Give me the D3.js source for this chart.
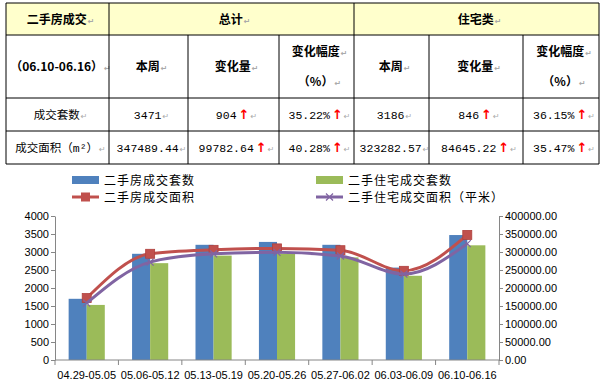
<!DOCTYPE html>
<html><head><meta charset="utf-8">
<script src="https://cdn.jsdelivr.net/npm/d3@7/dist/d3.min.js"></script>
<style>body{margin:0;background:#fff}svg{display:block}</style>
</head><body>
<svg id="c" width="603" height="382"></svg>
<script>
// ---------- data ----------
const categories = ["04.29-05.05","05.06-05.12","05.13-05.19","05.20-05.26","05.27-06.02","06.03-06.09","06.10-06.16"];
const totalCount = [1700, 2950, 3200, 3280, 3200, 2567, 3471];
const residentialCount = [1530, 2690, 2900, 2950, 2850, 2340, 3186];
const totalArea = [172000, 295000, 306000, 310000, 305000, 247707, 347489];
const residentialArea = [158000, 272000, 295000, 299000, 289000, 238637, 323283];
const leftTicks = [0,500,1000,1500,2000,2500,3000,3500,4000];
const rightTicks = [0,50000,100000,150000,200000,250000,300000,350000,400000];
const seriesNames = ["二手房成交套数","二手住宅成交套数","二手房成交面积","二手住宅成交面积（平米）"];

const tableHeader1 = ["二手房成交","总计","住宅类"];
const tableHeader2 = ["（06.10-06.16）","本周","变化量","变化幅度|（%）","本周","变化量","变化幅度|（%）"];
const tableRowCount = ["成交套数","3471","904↑","35.22%↑","3186","846↑","36.15%↑"];
const tableRowArea = ["成交面积（m²）","347489.44","99782.64↑","40.28%↑","323282.57","84645.22↑","35.47%↑"];

const colors = {blue:"#4F81BD", green:"#9BBB59", red:"#C0504D", purple:"#8064A2", axis:"#868686"};

const svg = d3.select("#c");

// ---------- table ----------
const colX = [6,109,188,279,354,429,523,599];
const rowY = [3,35,98,131,164];
const tg = svg.append("g");
tg.append("rect").attr("x",colX[0]).attr("y",rowY[0]).attr("width",colX[7]-colX[0]).attr("height",rowY[1]-rowY[0]).attr("fill","#FFFFCC");

function cellText(txt, x0, x1, y0, y1, bold){
  const cx=(x0+x1)/2, cy=(y0+y1)/2;
  const lines = txt.split("|");
  const lh = 30;
  lines.forEach((ln,i)=>{
    const yy = cy + (i-(lines.length-1)/2)*lh + 4.5;
    const t = tg.append("text").attr("x",cx+3).attr("y",yy).attr("text-anchor","middle")
      .attr("font-size", bold ? 12 : 11.5).attr("fill","#000")
      .attr("font-family", bold ? "'Noto Sans CJK SC'" : "'Liberation Mono','Noto Sans CJK SC'")
      .attr("font-weight", bold ? "bold" : "normal");
    const parts = ln.split("↑");
    t.append("tspan").text(parts[0]);
    if(parts.length>1){
      t.append("tspan").attr("fill","#FF0000").attr("font-weight","bold").attr("font-family","'DejaVu Sans'").attr("font-size",13).attr("dx",2).text("↑");
    }
    t.append("tspan").attr("fill","#aaa").attr("font-size",8).attr("font-family","'DejaVu Sans'").attr("dx",1).text("↵");
  });
}
cellText(tableHeader1[0], colX[0], colX[1], rowY[0], rowY[1], true);
cellText(tableHeader1[1], colX[1], colX[4], rowY[0], rowY[1], true);
cellText(tableHeader1[2], colX[4], colX[7], rowY[0], rowY[1], true);
tableHeader2.forEach((t,i)=>cellText(t, colX[i], colX[i+1], rowY[1], rowY[2], true));
tableRowCount.forEach((t,i)=>cellText(t, colX[i], colX[i+1], rowY[2], rowY[3], false));
tableRowArea.forEach((t,i)=>cellText(t, colX[i], colX[i+1], rowY[3], rowY[4], false));

// borders
rowY.forEach(y=>tg.append("line").attr("x1",colX[0]).attr("x2",colX[7]).attr("y1",y).attr("y2",y).attr("stroke","#000"));
colX.forEach((x,i)=>{
  const y0 = (i===0||i===1||i===4||i===7) ? rowY[0] : rowY[1];
  tg.append("line").attr("x1",x).attr("x2",x).attr("y1",y0).attr("y2",rowY[4]).attr("stroke","#000");
});

// ---------- chart ----------
const plot = {l:55, r:499, t:216, b:360};
const x = d3.scaleBand().domain(categories).range([plot.l, plot.r]).paddingInner(0.43).paddingOuter(0.215);
const xs = d3.scaleBand().domain([0,1]).range([0, x.bandwidth()]);
const yL = d3.scaleLinear().domain([0,4000]).range([plot.b, plot.t]);
const yR = d3.scaleLinear().domain([0,400000]).range([plot.b, plot.t]);
const g = svg.append("g");

// bars
[[totalCount,colors.blue],[residentialCount,colors.green]].forEach(([vals,col],si)=>{
  g.selectAll(null).data(vals).enter().append("rect")
    .attr("x",(d,i)=>x(categories[i])+xs(si)).attr("width",xs.bandwidth())
    .attr("y",d=>yL(d)).attr("height",d=>yL(0)-yL(d)).attr("fill",col);
});

// axes
const axL = g.append("g").attr("transform",`translate(${plot.l},0)`)
  .call(d3.axisLeft(yL).tickValues(leftTicks).tickSize(4).tickSizeOuter(0).tickFormat(d3.format("d")));
const axR = g.append("g").attr("transform",`translate(${plot.r},0)`)
  .call(d3.axisRight(yR).tickValues(rightTicks).tickSize(4).tickSizeOuter(0).tickFormat(d3.format(".2f")));
[axL,axR].forEach(a=>{
  a.selectAll("path,line").attr("stroke",colors.axis);
  a.selectAll("text").attr("font-family","'Liberation Sans'").attr("font-size",11).attr("fill","#000");
});
axR.selectAll("text").attr("x",6);
axL.selectAll("text").attr("x",-6);

// x axis
g.append("line").attr("x1",plot.l).attr("x2",plot.r).attr("y1",plot.b).attr("y2",plot.b).attr("stroke",colors.axis);
const step = x.step();
d3.range(categories.length+1).forEach(i=>{
  const bx = plot.l + i*step;
  g.append("line").attr("x1",bx).attr("x2",bx).attr("y1",plot.b).attr("y2",plot.b+5).attr("stroke",colors.axis);
});
g.selectAll(null).data(categories).enter().append("text")
  .attr("x",d=>x(d)+x.bandwidth()/2).attr("y",379).attr("text-anchor","middle")
  .attr("font-family","'Liberation Sans'").attr("font-size",11).attr("fill","#000").text(d=>d);

// lines
const line = d3.line().x((d,i)=>x(categories[i])+x.bandwidth()/2).y(d=>yR(d)).curve(d3.curveMonotoneX);
g.append("path").datum(totalArea).attr("d",line).attr("fill","none").attr("stroke",colors.red).attr("stroke-width",3);
g.selectAll(null).data(totalArea).enter().append("rect")
  .attr("x",(d,i)=>x(categories[i])+x.bandwidth()/2-4.5).attr("y",d=>yR(d)-4.5)
  .attr("width",9).attr("height",9).attr("fill",colors.red).attr("stroke","#B0403D").attr("stroke-width",0.8);
g.append("path").datum(residentialArea).attr("d",line).attr("fill","none").attr("stroke",colors.purple).attr("stroke-width",3);
g.selectAll(null).data(residentialArea).enter().append("path")
  .attr("transform",(d,i)=>`translate(${x(categories[i])+x.bandwidth()/2},${yR(d)})`)
  .attr("d","M-3.5,-3.5L3.5,3.5M-3.5,3.5L3.5,-3.5").attr("stroke",colors.purple).attr("stroke-width",1.2);

// legend
const lg = svg.append("g").attr("font-family","'Noto Sans CJK SC'").attr("font-size",12).attr("fill","#000").attr("letter-spacing",1);
const legendItems = [
  {x:72, y:180, type:"bar", col:colors.blue, name:seriesNames[0]},
  {x:316, y:180, type:"bar", col:colors.green, name:seriesNames[1]},
  {x:72, y:197, type:"sq", col:colors.red, name:seriesNames[2]},
  {x:316, y:197, type:"x", col:colors.purple, name:seriesNames[3]}
];
legendItems.forEach(it=>{
  if(it.type==="bar"){
    lg.append("rect").attr("x",it.x).attr("y",it.y-4).attr("width",27).attr("height",8).attr("fill",it.col);
  } else {
    lg.append("line").attr("x1",it.x).attr("x2",it.x+27).attr("y1",it.y).attr("y2",it.y).attr("stroke",it.col).attr("stroke-width",3);
    if(it.type==="sq") lg.append("rect").attr("x",it.x+9).attr("y",it.y-4.5).attr("width",9).attr("height",9).attr("fill",it.col);
    else lg.append("path").attr("transform",`translate(${it.x+13.5},${it.y})`).attr("d","M-3.5,-3.5L3.5,3.5M-3.5,3.5L3.5,-3.5").attr("stroke",it.col).attr("stroke-width",1.2);
  }
  lg.append("text").attr("x",it.x+32).attr("y",it.y+4.5).text(it.name);
});
</script>
</body></html>
